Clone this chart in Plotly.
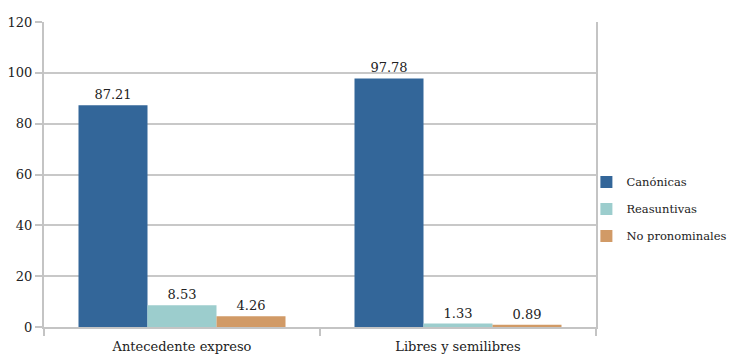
import plotly.graph_objects as go

categories = ["Antecedente expreso", "Libres y semilibres"]
series_names = ["Canónicas", "Reasuntivas", "No pronominales"]
canonicas = [87.21, 97.78]
reasuntivas = [8.53, 1.33]
no_pronominales = [4.26, 0.89]
y_ticks = [0, 20, 40, 60, 80, 100, 120]

colors = ["#336699", "#9ccdcd", "#d19a66"]
values = [canonicas, reasuntivas, no_pronominales]

FONT = "DejaVu Serif"
TEXT = "#222222"

fig = go.Figure()
for i, (name, vals, col) in enumerate(zip(series_names, values, colors)):
    fig.add_trace(go.Bar(
        x=categories,
        y=vals,
        name=name,
        legendgroup=f"g{i}",
        marker=dict(color=col, line=dict(width=0)),
        text=[f"{v:.2f}" for v in vals],
        textposition="outside",
        textfont=dict(family=FONT, size=13, color=TEXT),
        cliponaxis=False,
    ))

fig.update_layout(
    width=733,
    height=359,
    margin=dict(l=44, r=137, t=22, b=32, autoexpand=False),
    paper_bgcolor="white",
    plot_bgcolor="white",
    barmode="group",
    bargap=0.25,
    bargroupgap=0,
    font=dict(family=FONT, size=13, color=TEXT),
    legend=dict(
        xref="container", x=0.80, y=0.387, xanchor="left", yanchor="middle",
        bgcolor="rgba(0,0,0,0)",
        font=dict(family=FONT, size=11.5, color=TEXT),
        tracegroupgap=8,
        itemwidth=30,
    ),
    xaxis=dict(
        showline=True, linecolor="#c4c4c4", linewidth=2,
        ticks="outside", tickson="boundaries", ticklen=7,
        tickcolor="#c4c4c4", tickwidth=2,
        showgrid=False,
        ticklabelstandoff=6,
        tickfont=dict(family=FONT, size=13, color=TEXT),
    ),
    yaxis=dict(
        range=[0, 120],
        tickvals=y_ticks,
        showline=True, linecolor="#c4c4c4", linewidth=2, mirror=True,
        ticks="outside", ticklen=7, tickcolor="#c4c4c4", tickwidth=2,
        showgrid=True, gridcolor="#c8c8c8", gridwidth=2,
        zeroline=False,
        tickfont=dict(family=FONT, size=13, color=TEXT),
    ),
)

fig.write_html("out.html")
